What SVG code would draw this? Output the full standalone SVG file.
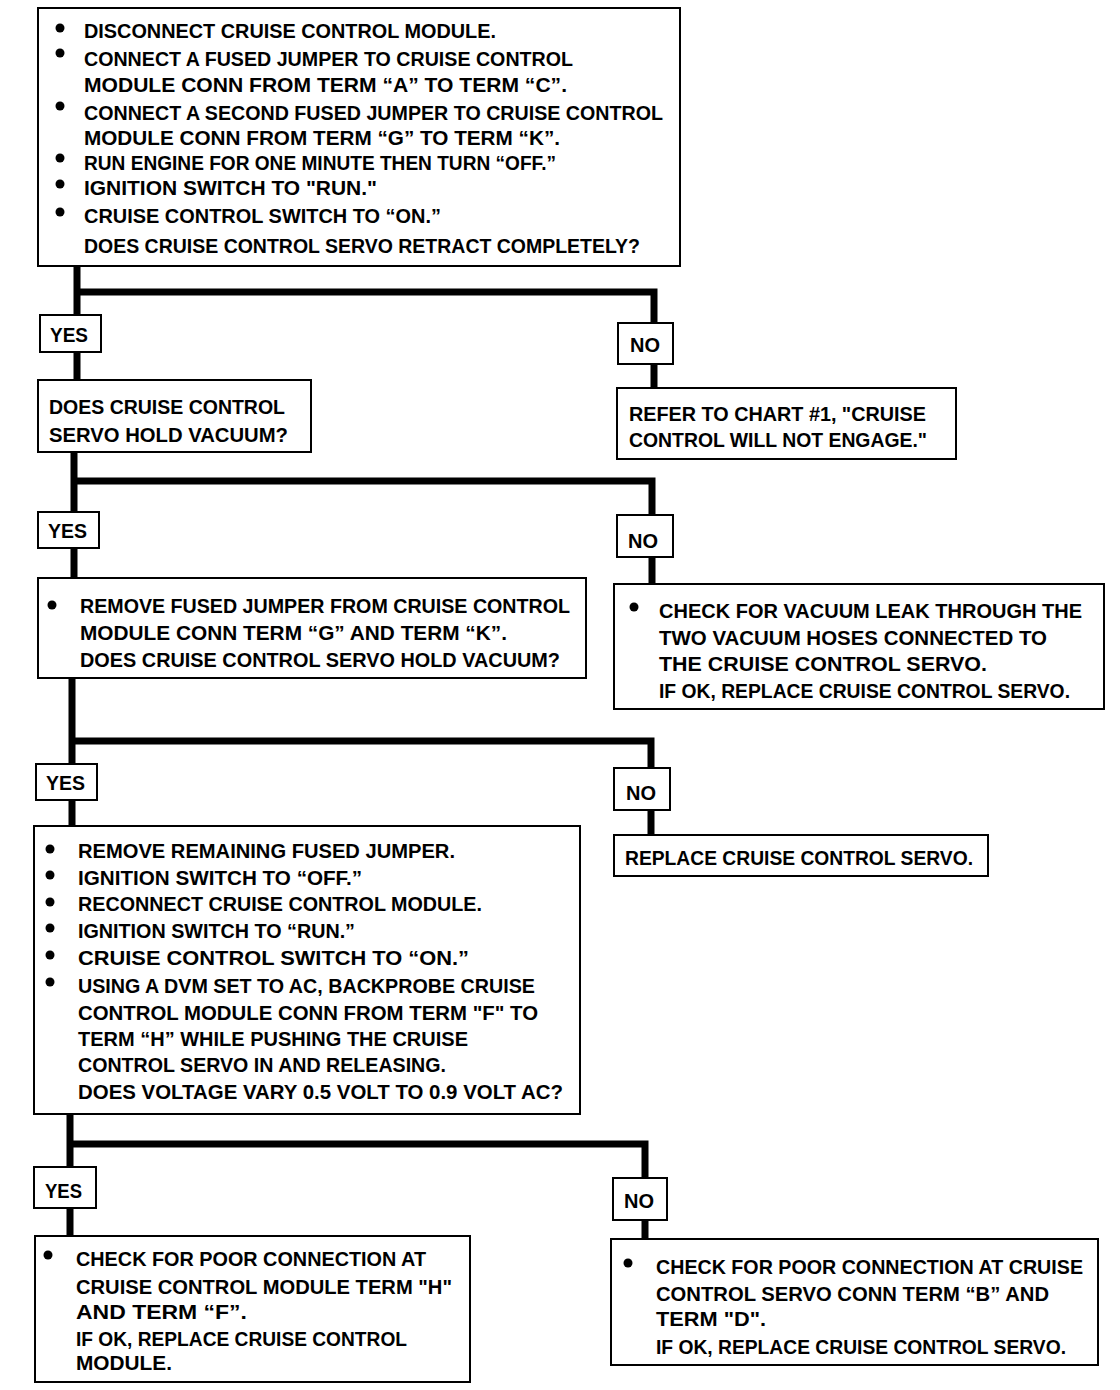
<svg xmlns="http://www.w3.org/2000/svg" width="1120" height="1390" viewBox="0 0 1120 1390">
<style>
.box{fill:#fff;stroke:#000;stroke-width:2}
.t{font-family:"Liberation Sans",Arial,sans-serif;font-weight:bold;font-size:21px;fill:#000}
.c{fill:none;stroke:#000;stroke-width:7;stroke-linejoin:miter;stroke-linecap:butt}
.b{fill:#000}
</style>
<rect width="1120" height="1390" fill="#fff"/>
<g id="connectors">
<path class="c" d="M77,266 V380 M77,292 H654 V388"/>
<path class="c" d="M74,452 V578 M74,481 H652 V584"/>
<path class="c" d="M72,678 V826 M72,741 H651 V835"/>
<path class="c" d="M70,1114 V1236 M70,1144 H645 V1239"/>
</g>
<g id="n1">
<rect class="box" x="38" y="8" width="642" height="258"/>
<circle class="b" cx="60" cy="28" r="4.5"/><circle class="b" cx="60" cy="53" r="4.5"/><circle class="b" cx="60" cy="106" r="4.5"/><circle class="b" cx="60" cy="158" r="4.5"/><circle class="b" cx="60" cy="184" r="4.5"/><circle class="b" cx="60" cy="212" r="4.5"/>
<text class="t" x="84" y="38" textLength="412" lengthAdjust="spacingAndGlyphs">DISCONNECT CRUISE CONTROL MODULE.</text>
<text class="t" x="84" y="66" textLength="489" lengthAdjust="spacingAndGlyphs">CONNECT A FUSED JUMPER TO CRUISE CONTROL</text>
<text class="t" x="84" y="92" textLength="483" lengthAdjust="spacingAndGlyphs">MODULE CONN FROM TERM “A” TO TERM “C”.</text>
<text class="t" x="84" y="120" textLength="579" lengthAdjust="spacingAndGlyphs">CONNECT A SECOND FUSED JUMPER TO CRUISE CONTROL</text>
<text class="t" x="84" y="145" textLength="476" lengthAdjust="spacingAndGlyphs">MODULE CONN FROM TERM “G” TO TERM “K”.</text>
<text class="t" x="84" y="170" textLength="472" lengthAdjust="spacingAndGlyphs">RUN ENGINE FOR ONE MINUTE THEN TURN “OFF.”</text>
<text class="t" x="84" y="195" textLength="293" lengthAdjust="spacingAndGlyphs">IGNITION SWITCH TO "RUN."</text>
<text class="t" x="84" y="223" textLength="357" lengthAdjust="spacingAndGlyphs">CRUISE CONTROL SWITCH TO “ON.”</text>
<text class="t" x="84" y="253" textLength="556" lengthAdjust="spacingAndGlyphs">DOES CRUISE CONTROL SERVO RETRACT COMPLETELY?</text>
</g>
<g id="yes1"><rect class="box" x="40" y="315" width="61" height="37"/><text class="t" x="50" y="342" textLength="38" lengthAdjust="spacingAndGlyphs">YES</text></g>
<g id="no1"><rect class="box" x="618" y="323" width="55" height="41"/><text class="t" x="630" y="352" textLength="30" lengthAdjust="spacingAndGlyphs">NO</text></g>
<g id="n2">
<rect class="box" x="38" y="380" width="273" height="72"/>
<text class="t" x="49" y="414" textLength="236" lengthAdjust="spacingAndGlyphs">DOES CRUISE CONTROL</text>
<text class="t" x="49" y="442" textLength="239" lengthAdjust="spacingAndGlyphs">SERVO HOLD VACUUM?</text>
</g>
<g id="n3">
<rect class="box" x="617" y="388" width="339" height="71"/>
<text class="t" x="629" y="421" textLength="297" lengthAdjust="spacingAndGlyphs">REFER TO CHART #1, "CRUISE</text>
<text class="t" x="629" y="447" textLength="298" lengthAdjust="spacingAndGlyphs">CONTROL WILL NOT ENGAGE."</text>
</g>
<g id="yes2"><rect class="box" x="38" y="512" width="61" height="36"/><text class="t" x="48" y="538" textLength="39" lengthAdjust="spacingAndGlyphs">YES</text></g>
<g id="no2"><rect class="box" x="617" y="515" width="56" height="42"/><text class="t" x="628" y="548" textLength="30" lengthAdjust="spacingAndGlyphs">NO</text></g>
<g id="n4">
<rect class="box" x="38" y="578" width="548" height="100"/>
<circle class="b" cx="52" cy="605" r="4.5"/>
<text class="t" x="80" y="613" textLength="490" lengthAdjust="spacingAndGlyphs">REMOVE FUSED JUMPER FROM CRUISE CONTROL</text>
<text class="t" x="80" y="640" textLength="427" lengthAdjust="spacingAndGlyphs">MODULE CONN TERM “G” AND TERM “K”.</text>
<text class="t" x="80" y="667" textLength="480" lengthAdjust="spacingAndGlyphs">DOES CRUISE CONTROL SERVO HOLD VACUUM?</text>
</g>
<g id="n5">
<rect class="box" x="614" y="584" width="490" height="125"/>
<circle class="b" cx="634" cy="607" r="4.5"/>
<text class="t" x="659" y="618" textLength="423" lengthAdjust="spacingAndGlyphs">CHECK FOR VACUUM LEAK THROUGH THE</text>
<text class="t" x="659" y="645" textLength="388" lengthAdjust="spacingAndGlyphs">TWO VACUUM HOSES CONNECTED TO</text>
<text class="t" x="659" y="671" textLength="328" lengthAdjust="spacingAndGlyphs">THE CRUISE CONTROL SERVO.</text>
<text class="t" x="659" y="698" textLength="411" lengthAdjust="spacingAndGlyphs">IF OK, REPLACE CRUISE CONTROL SERVO.</text>
</g>
<g id="yes3"><rect class="box" x="36" y="764" width="61" height="36"/><text class="t" x="46" y="790" textLength="39" lengthAdjust="spacingAndGlyphs">YES</text></g>
<g id="no3"><rect class="box" x="614" y="768" width="56" height="42"/><text class="t" x="626" y="800" textLength="30" lengthAdjust="spacingAndGlyphs">NO</text></g>
<g id="n6">
<rect class="box" x="34" y="826" width="546" height="288"/>
<circle class="b" cx="50" cy="849" r="4.5"/><circle class="b" cx="50" cy="875" r="4.5"/><circle class="b" cx="50" cy="902" r="4.5"/><circle class="b" cx="50" cy="928" r="4.5"/><circle class="b" cx="50" cy="955" r="4.5"/><circle class="b" cx="50" cy="982" r="4.5"/>
<text class="t" x="78" y="858" textLength="377" lengthAdjust="spacingAndGlyphs">REMOVE REMAINING FUSED JUMPER.</text>
<text class="t" x="78" y="885" textLength="284" lengthAdjust="spacingAndGlyphs">IGNITION SWITCH TO “OFF.”</text>
<text class="t" x="78" y="911" textLength="404" lengthAdjust="spacingAndGlyphs">RECONNECT CRUISE CONTROL MODULE.</text>
<text class="t" x="78" y="938" textLength="277" lengthAdjust="spacingAndGlyphs">IGNITION SWITCH TO “RUN.”</text>
<text class="t" x="78" y="965" textLength="391" lengthAdjust="spacingAndGlyphs">CRUISE CONTROL SWITCH TO “ON.”</text>
<text class="t" x="78" y="993" textLength="457" lengthAdjust="spacingAndGlyphs">USING A DVM SET TO AC, BACKPROBE CRUISE</text>
<text class="t" x="78" y="1020" textLength="460" lengthAdjust="spacingAndGlyphs">CONTROL MODULE CONN FROM TERM "F" TO</text>
<text class="t" x="78" y="1046" textLength="390" lengthAdjust="spacingAndGlyphs">TERM “H” WHILE PUSHING THE CRUISE</text>
<text class="t" x="78" y="1072" textLength="368" lengthAdjust="spacingAndGlyphs">CONTROL SERVO IN AND RELEASING.</text>
<text class="t" x="78" y="1099" textLength="485" lengthAdjust="spacingAndGlyphs">DOES VOLTAGE VARY 0.5 VOLT TO 0.9 VOLT AC?</text>
</g>
<g id="n7">
<rect class="box" x="614" y="835" width="374" height="41"/>
<text class="t" x="625" y="865" textLength="348" lengthAdjust="spacingAndGlyphs">REPLACE CRUISE CONTROL SERVO.</text>
</g>
<g id="yes4"><rect class="box" x="34" y="1167" width="62" height="41"/><text class="t" x="45" y="1198" textLength="37" lengthAdjust="spacingAndGlyphs">YES</text></g>
<g id="no4"><rect class="box" x="613" y="1178" width="54" height="42"/><text class="t" x="624" y="1208" textLength="30" lengthAdjust="spacingAndGlyphs">NO</text></g>
<g id="n8">
<rect class="box" x="35" y="1236" width="435" height="146"/>
<circle class="b" cx="48" cy="1255" r="4.5"/>
<text class="t" x="76" y="1266" textLength="350" lengthAdjust="spacingAndGlyphs">CHECK FOR POOR CONNECTION AT</text>
<text class="t" x="76" y="1294" textLength="376" lengthAdjust="spacingAndGlyphs">CRUISE CONTROL MODULE TERM "H"</text>
<text class="t" x="76" y="1319" textLength="171" lengthAdjust="spacingAndGlyphs">AND TERM “F”.</text>
<text class="t" x="76" y="1346" textLength="331" lengthAdjust="spacingAndGlyphs">IF OK, REPLACE CRUISE CONTROL</text>
<text class="t" x="76" y="1370" textLength="96" lengthAdjust="spacingAndGlyphs">MODULE.</text>
</g>
<g id="n9">
<rect class="box" x="611" y="1239" width="487" height="126"/>
<circle class="b" cx="628" cy="1263" r="4.5"/>
<text class="t" x="656" y="1274" textLength="427" lengthAdjust="spacingAndGlyphs">CHECK FOR POOR CONNECTION AT CRUISE</text>
<text class="t" x="656" y="1301" textLength="393" lengthAdjust="spacingAndGlyphs">CONTROL SERVO CONN TERM “B” AND</text>
<text class="t" x="656" y="1326" textLength="110" lengthAdjust="spacingAndGlyphs">TERM "D".</text>
<text class="t" x="656" y="1354" textLength="410" lengthAdjust="spacingAndGlyphs">IF OK, REPLACE CRUISE CONTROL SERVO.</text>
</g>
</svg>
